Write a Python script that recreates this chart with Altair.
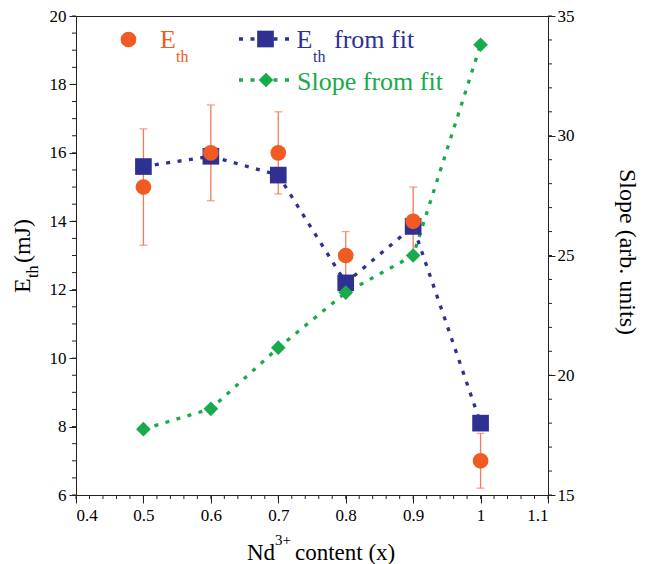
import altair as alt
import pandas as pd
import numpy as np

# ---------------- data ----------------
nd_content = [0.5, 0.6, 0.7, 0.8, 0.9, 1.0]
eth = [15.0, 16.0, 16.0, 13.0, 14.0, 7.0]
eth_low = [13.3, 14.6, 14.8, 12.3, 13.0, 6.2]
eth_high = [16.7, 17.4, 17.2, 13.7, 15.0, 7.8]
eth_fit = [15.6, 15.9, 15.35, 12.2, 13.85, 8.1]
slope_fit = [17.75, 18.6, 21.15, 23.45, 25.0, 33.8]

x_ticks = [0.4, 0.5, 0.6, 0.7, 0.8, 0.9, 1.0, 1.1]
left_ticks = [6, 8, 10, 12, 14, 16, 18, 20]
right_ticks = [15, 20, 25, 30, 35]
x_minor = [round(v, 2) for v in np.arange(0.4, 1.1001, 0.02)]
left_minor = [round(v, 1) for v in np.arange(6, 20.001, 0.5)]
right_minor = [int(v) for v in np.arange(15, 36, 1)]

df = pd.DataFrame({"x": nd_content, "eth": eth, "lo": eth_low, "hi": eth_high,
                   "fit": eth_fit, "slope": slope_fit})

ORANGE = "#f15a22"
ERR = "#f37c5a"
NAVY = "#2e3192"
GREEN = "#19aa4b"
AX = "#222222"
FONT = "Times New Roman, serif"

W, H = 472, 479
XS = alt.Scale(domain=[0.4, 1.1], nice=False, zero=False)
YL = alt.Scale(domain=[6, 20], nice=False, zero=False)
YR = alt.Scale(domain=[15, 35], nice=False, zero=False)

ax_common = dict(domainColor=AX, tickColor=AX, labelColor="black", labelFont=FONT,
                 labelFontSize=17, grid=False, title=None, tickWidth=1, domainWidth=1)
X_AXIS = alt.Axis(orient="bottom", values=x_ticks, format="~g", tickSize=8,
                  labelPadding=4, **ax_common)


def X(field):
    return alt.X(field, scale=XS, axis=X_AXIS)


base = alt.Chart(df)
one = pd.DataFrame({"a": [0]})

err = base.mark_rule(color=ERR, strokeWidth=1.3).encode(
    x=X("x:Q"), y=alt.Y("lo:Q", scale=YL, axis=None), y2="hi:Q")
cap_lo = base.mark_tick(color=ERR, thickness=1.3, size=8, orient="horizontal").encode(
    x=X("x:Q"), y=alt.Y("lo:Q", scale=YL, axis=None))
cap_hi = base.mark_tick(color=ERR, thickness=1.3, size=8, orient="horizontal").encode(
    x=X("x:Q"), y=alt.Y("hi:Q", scale=YL, axis=None))

fit_line = base.mark_line(color=NAVY, strokeWidth=3.3, strokeDash=[4, 7.5]).encode(
    x=X("x:Q"), y=alt.Y("fit:Q", scale=YL, axis=None))
fit_pts = base.mark_point(shape="square", filled=True, opacity=1, color=NAVY, size=278).encode(
    x=X("x:Q"), y=alt.Y("fit:Q", scale=YL, axis=None))

slope_line = base.mark_line(color=GREEN, strokeWidth=3.3, strokeDash=[4, 7.5]).encode(
    x=X("x:Q"),
    y=alt.Y("slope:Q", scale=YR,
            axis=alt.Axis(orient="right", values=right_ticks, tickSize=7, labelPadding=2,
                          **ax_common)))
slope_pts = base.mark_point(shape="diamond", filled=True, opacity=1, color=GREEN, size=216).encode(
    x=X("x:Q"), y=alt.Y("slope:Q", scale=YR, axis=None))

eth_pts = base.mark_circle(color=ORANGE, opacity=1, size=246).encode(
    x=X("x:Q"),
    y=alt.Y("eth:Q", scale=YL,
            axis=alt.Axis(orient="left", values=left_ticks, tickSize=7, labelPadding=3,
                          **ax_common)))

mx = alt.Chart(pd.DataFrame({"v": x_minor})).mark_rule(color=AX, strokeWidth=1).encode(
    x=X("v:Q"), y=alt.value(H), y2=alt.value(H + 4))
ml = alt.Chart(pd.DataFrame({"v": left_minor})).mark_rule(color=AX, strokeWidth=1).encode(
    y=alt.Y("v:Q", scale=YL, axis=None), x=alt.value(0), x2=alt.value(-4))
mr = alt.Chart(pd.DataFrame({"v": right_minor})).mark_rule(color=AX, strokeWidth=1).encode(
    y=alt.Y("v:Q", scale=YR, axis=None), x=alt.value(W), x2=alt.value(W + 4))


def txt(s, x, y, size, color="black", angle=0, align="left"):
    kw = dict(text=s, font=FONT, fontSize=size, color=color, align=align,
              baseline="alphabetic")
    if angle:
        kw["angle"] = angle
    return alt.Chart(one).mark_text(**kw).encode(x=alt.value(x), y=alt.value(y))


titles = [
    txt("E", -46, 277, 24, angle=270),
    txt("th", -38, 262, 16, angle=270),
    txt("(mJ)", -46, 247, 24, angle=270),
    txt("Nd", 171, 544, 23),
    txt("3+", 199, 529, 15),
    txt("content (x)", 219, 544, 23),
    txt("Slope (arb. units)", 544, 236, 24, angle=90, align="center"),
]

leg_circle = alt.Chart(one).mark_circle(color=ORANGE, opacity=1, size=246).encode(
    x=alt.value(52.5), y=alt.value(23.5))
leg_blue_line = alt.Chart(one).mark_rule(color=NAVY, strokeWidth=3.3, strokeDash=[4, 7.5]).encode(
    x=alt.value(163), x2=alt.value(217), y=alt.value(23))
leg_square = alt.Chart(one).mark_point(shape="square", filled=True, opacity=1, color=NAVY, size=278).encode(
    x=alt.value(189.5), y=alt.value(23))
leg_green_line = alt.Chart(one).mark_rule(color=GREEN, strokeWidth=3.3, strokeDash=[4, 7.5]).encode(
    x=alt.value(163), x2=alt.value(217), y=alt.value(64))
leg_diamond = alt.Chart(one).mark_point(shape="diamond", filled=True, opacity=1, color=GREEN, size=216).encode(
    x=alt.value(190), y=alt.value(64))

legend = [
    leg_circle,
    txt("E", 84, 32, 26, ORANGE),
    txt("th", 100, 46, 16, ORANGE),
    leg_blue_line, leg_square,
    txt("E", 220.5, 32, 26, NAVY),
    txt("th", 237, 46, 16, NAVY),
    txt("from fit", 258, 32, 26, NAVY),
    leg_green_line, leg_diamond,
    txt("Slope from fit", 221, 74, 26, GREEN),
]

chart = alt.layer(
    mx, ml, mr,
    slope_line, fit_line, err, cap_lo, cap_hi, fit_pts, slope_pts, eth_pts,
    *titles, *legend
).resolve_scale(y="independent").properties(
    width=W, height=H,
    padding={"left": 68, "top": 8, "right": 93, "bottom": 69},
    autosize=alt.AutoSizeParams(type="none"),
    background="white",
).configure_view(stroke=AX, strokeWidth=1)

chart.save("out.html", embed_options={"renderer": "svg", "actions": False})
